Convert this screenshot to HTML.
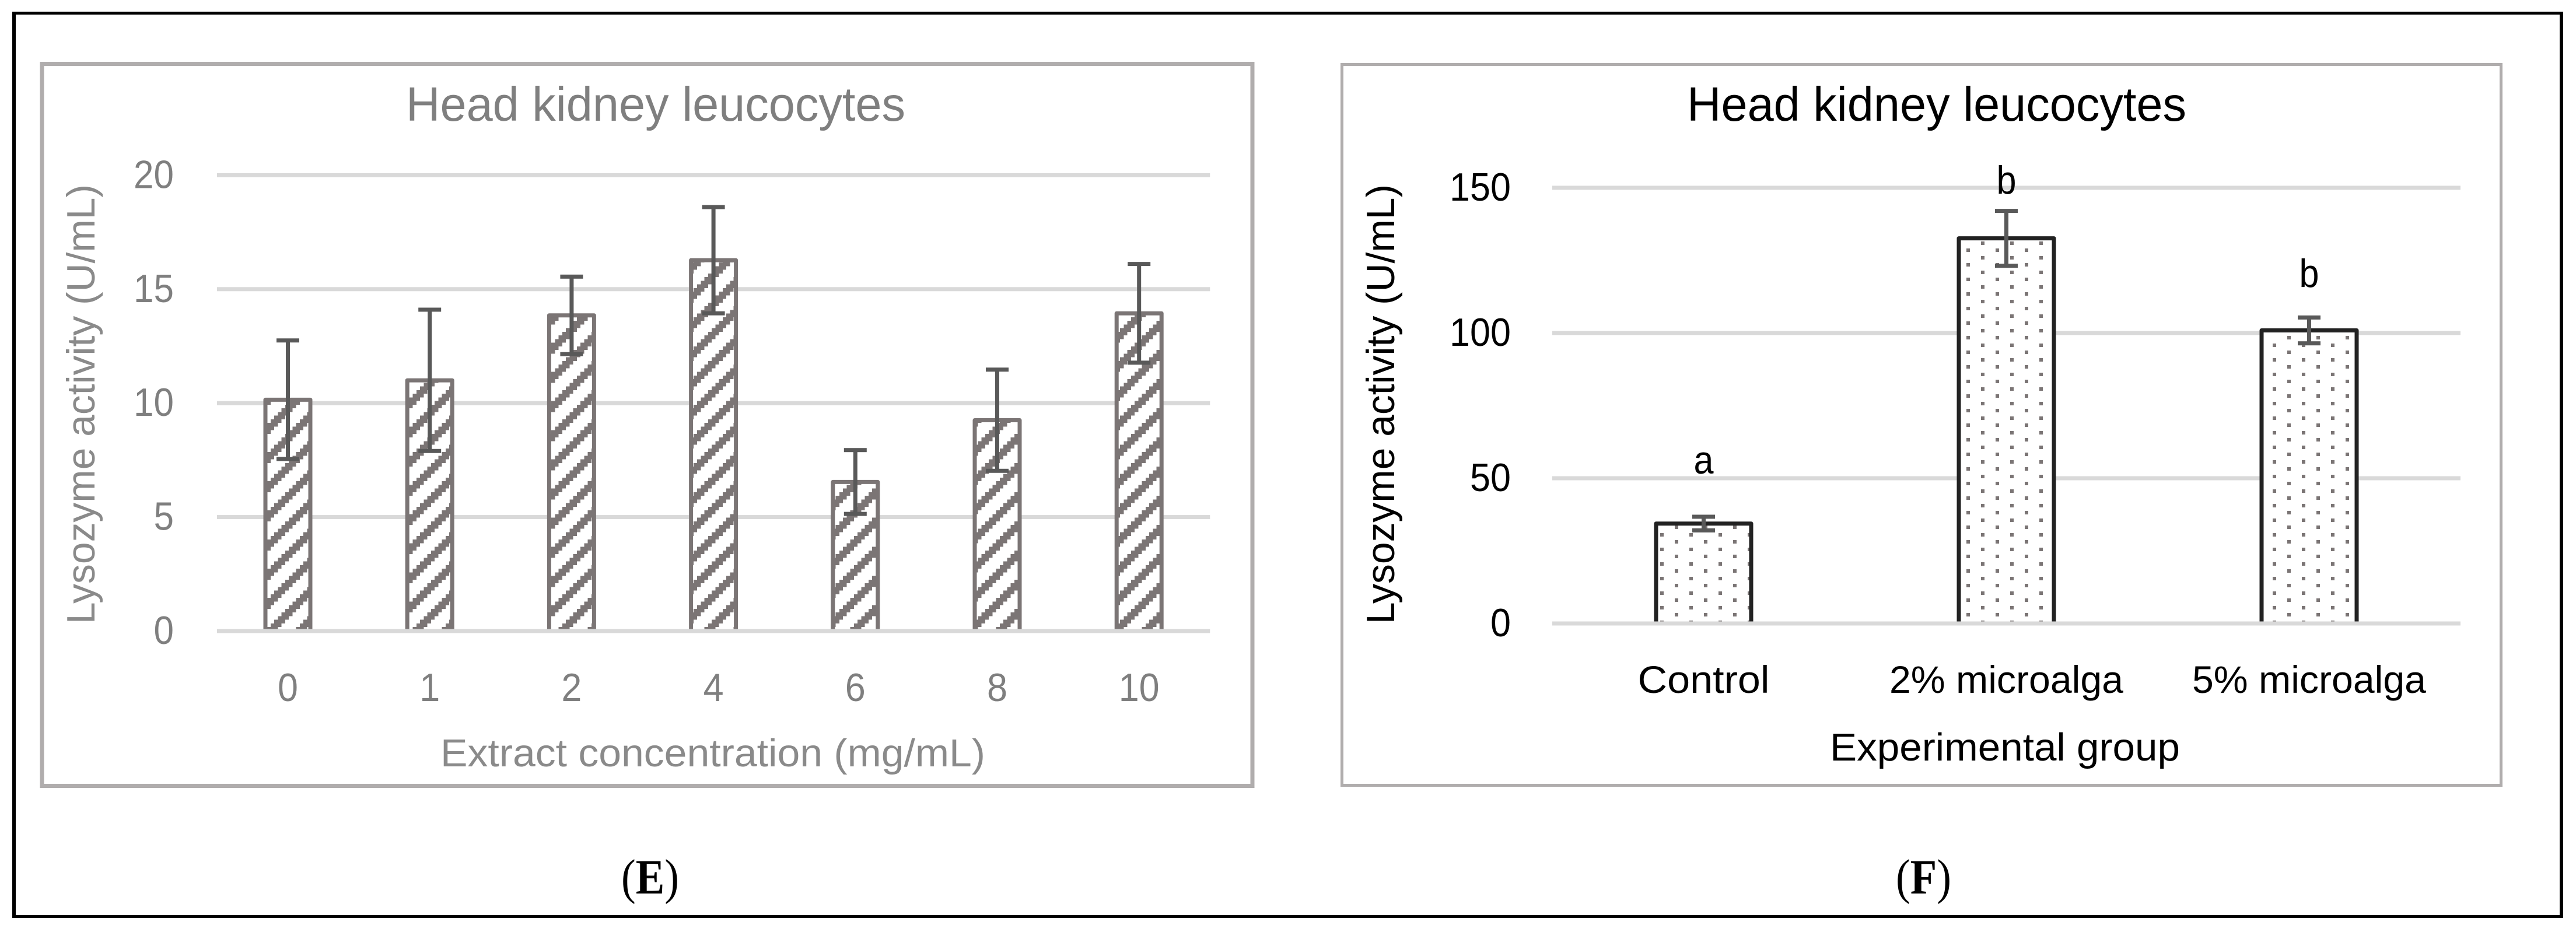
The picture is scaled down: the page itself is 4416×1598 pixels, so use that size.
<!DOCTYPE html>
<html lang="en">
<head>
<meta charset="utf-8">
<title>Lysozyme activity in head kidney leucocytes</title>
<style>
html,body{margin:0;padding:0;background:#fff;width:4416px;height:1598px;overflow:hidden}
svg{display:block}
text{font-family:"Liberation Sans",sans-serif}
.cap{font-family:"Liberation Serif",serif}
</style>
</head>
<body>
<svg id="figure" xmlns="http://www.w3.org/2000/svg" width="4416" height="1598" viewBox="0 0 4416 1598">
  <defs>
    <pattern id="hatch" patternUnits="userSpaceOnUse" width="50" height="50" patternTransform="translate(32.5,0)" shape-rendering="crispEdges"></pattern>
    <pattern id="dots" patternUnits="userSpaceOnUse" width="50" height="25" patternTransform="translate(21,1)" shape-rendering="crispEdges">
      <rect x="0" y="0" width="6" height="6" fill="#7b7575"/>
      <rect x="25" y="13" width="6" height="6" fill="#7b7575"/>
    </pattern>
  </defs>
  <rect x="0" y="0" width="4416" height="1598" fill="#fff"/>
  <g fill="#000">
    <rect x="21" y="20" width="4373" height="5"/>
    <rect x="21" y="1569" width="4373" height="5"/>
    <rect x="21" y="20" width="6" height="1554"/>
    <rect x="4388" y="20" width="6" height="1554"/>
  </g>
  <rect x="72" y="109.5" width="2075" height="1238" fill="#fff" stroke="#b0adad" stroke-width="7"/>
  <rect x="2300.5" y="110.5" width="1987" height="1236" fill="#fff" stroke="#b0adad" stroke-width="5"/>
  <g id="chart-e"></g>
  <g id="chart-f"></g>
  <text class="cap" x="1065" y="1532" font-size="85" textLength="99" lengthAdjust="spacingAndGlyphs" fill="#000">(<tspan font-weight="bold">E</tspan>)</text>
  <text class="cap" x="3250" y="1532" font-size="85" textLength="95" lengthAdjust="spacingAndGlyphs" fill="#000">(<tspan font-weight="bold">F</tspan>)</text>
</svg>
<script>
// Panel E data
const eCategories = ["0", "1", "2", "4", "6", "8", "10"];
const eValues = [10.15, 11.0, 13.85, 16.27, 6.54, 9.25, 13.94];
const eErrors = [2.6, 3.1, 1.7, 2.33, 1.4, 2.22, 2.165];
const eTicks = [0, 5, 10, 15, 20];
// Panel F data
const fCategories = ["Control", "2% microalga", "5% microalga"];
const fValues = [34.4, 132.6, 100.9];
const fErrors = [2.35, 9.45, 4.45];
const fLetters = ["a", "b", "b"];
const fLetterLevels = [51.6, 148, 115.9];
const fTicks = [0, 50, 100, 150];

const NS = "http://www.w3.org/2000/svg";
function make(parent, tag, attrs, content) {
  const el = document.createElementNS(NS, tag);
  for (const k in attrs) el.setAttribute(k, attrs[k]);
  if (content !== undefined) el.textContent = content;
  parent.appendChild(el);
  return el;
}

// staircase hatch tile: 8x8 cells, three cells thick
const hatch = document.getElementById("hatch");
for (let i = 0; i < 8; i++) {
  for (let k = 0; k < 3; k++) {
    const j = (8 + k - i) % 8;
    make(hatch, "rect", {x: i * 6.25, y: j * 6.25, width: 6.3, height: 6.3, fill: "#7b7575"});
  }
}

function drawChart(cfg) {
  const root = document.getElementById(cfg.id);
  const y = v => cfg.y0 - v * cfg.pxPerUnit;
  const x = i => cfg.left + cfg.band * (i + 0.5);
  const right = cfg.left + cfg.band * cfg.categories.length;

  // gridlines below the bars (zero line goes on top)
  cfg.ticks.forEach(t => {
    if (t === 0) return;
    const g = make(root, "rect", {x: cfg.left, y: y(t) - 3.5, width: right - cfg.left, height: 7, fill: "#d9d9d9"});
    
    
  });

  // tick labels
  cfg.ticks.forEach(t => {
    const s = String(t);
    const w = s.length * cfg.digitW;
    const l = make(root, "text", {x: cfg.tickRight - w, y: y(t) + 22, "font-size": 68, fill: cfg.tickColor, textLength: w, lengthAdjust: "spacingAndGlyphs"}, s);
    
    
  });

  // bars
  cfg.values.forEach((v, i) => {
    const cx = x(i);
    const top = y(v);
    const fillBar = make(root, "rect", {x: cx - cfg.barW / 2, y: top, width: cfg.barW, height: cfg.y0 - top, fill: "#fff", stroke: "none"});
    
    
    const bar = make(root, "rect", {x: cx - cfg.barW / 2, y: top, width: cfg.barW, height: cfg.y0 - top, fill: cfg.fill, stroke: cfg.barStroke, "stroke-width": 7, "stroke-linejoin": "round"});
    
    
  });

  // zero line over the bar feet
  const base = make(root, "rect", {x: cfg.left, y: cfg.y0 - 3.5, width: right - cfg.left, height: 7, fill: "#d9d9d9"});
  
  

  // error bars
  cfg.values.forEach((v, i) => {
    const cx = x(i);
    const hi = y(v + cfg.errors[i]);
    const lo = y(v - cfg.errors[i]);
    const group = make(root, "g", {fill: "#595959"});
    
    
    make(group, "rect", {x: cx - 3.5, y: hi, width: 7, height: lo - hi});
    make(group, "rect", {x: cx - 19.5, y: hi - 3.5, width: 39, height: 7});
    make(group, "rect", {x: cx - 19.5, y: lo - 3.5, width: 39, height: 7});
  });

  // category labels
  cfg.categories.forEach((c, i) => {
    const w = cfg.catWidth(c);
    const l = make(root, "text", {x: x(i) - w / 2 + cfg.catShift, y: cfg.catBase, "font-size": cfg.catSize, fill: cfg.tickColor, textLength: w, lengthAdjust: "spacingAndGlyphs"}, c);
    
    
  });

  // chart title
  const title = make(root, "text", {x: cfg.titleX, y: 207, "font-size": 83, fill: cfg.titleColor, textLength: 856, lengthAdjust: "spacingAndGlyphs"}, "Head kidney leucocytes");
  
  

  // axis titles
  const yt = make(root, "text", {transform: "translate(" + cfg.yTitleX + ",1070) rotate(-90)", x: 0, y: 0, "font-size": 68, fill: cfg.axisColor, textLength: 754, lengthAdjust: "spacingAndGlyphs"}, "Lysozyme activity (U/mL)");
  
  

  const xt = make(root, "text", {x: cfg.xTitleX, y: cfg.xTitleY, "font-size": 67, fill: cfg.axisColor, textLength: cfg.xTitleW, lengthAdjust: "spacingAndGlyphs"}, cfg.xTitle);
  
  

  // significance letters
  (cfg.letters || []).forEach((s, i) => {
    const l = make(root, "text", {x: x(i) - 17, y: y(cfg.letterLevels[i]), "font-size": 68, fill: "#000", textLength: 34, lengthAdjust: "spacingAndGlyphs"}, s);
    
    
  });
}

drawChart({
  id: "chart-e", categories: eCategories, values: eValues, errors: eErrors, ticks: eTicks,
  y0: 1082, pxPerUnit: 39.08, left: 371.9, band: 243.2, barW: 77,
  fill: "url(#hatch)", barStroke: "#7b7575",
  tickRight: 298, digitW: 34.5, tickColor: "#7f7f7f", titleColor: "#7f7f7f", axisColor: "#8a8a8a",
  catWidth: c => c.length * 35, catShift: 0, catBase: 1202, catSize: 68,
  titleX: 696, yTitleX: 162,
  xTitle: "Extract concentration (mg/mL)", xTitleX: 755, xTitleY: 1314, xTitleW: 934
});

drawChart({
  id: "chart-f", categories: fCategories, values: fValues, errors: fErrors, ticks: fTicks,
  letters: fLetters, letterLevels: fLetterLevels,
  y0: 1069, pxPerUnit: 4.98, left: 2661, band: 519, barW: 163,
  fill: "url(#dots)", barStroke: "#222222",
  tickRight: 2590, digitW: 35, tickColor: "#000", titleColor: "#000", axisColor: "#000",
  catWidth: c => c === "Control" ? 226 : 401, catShift: 0, catBase: 1188, catSize: 66,
  titleX: 2892, yTitleX: 2390,
  xTitle: "Experimental group", xTitleX: 3137, xTitleY: 1304, xTitleW: 600
});
</script>
</body>
</html>
